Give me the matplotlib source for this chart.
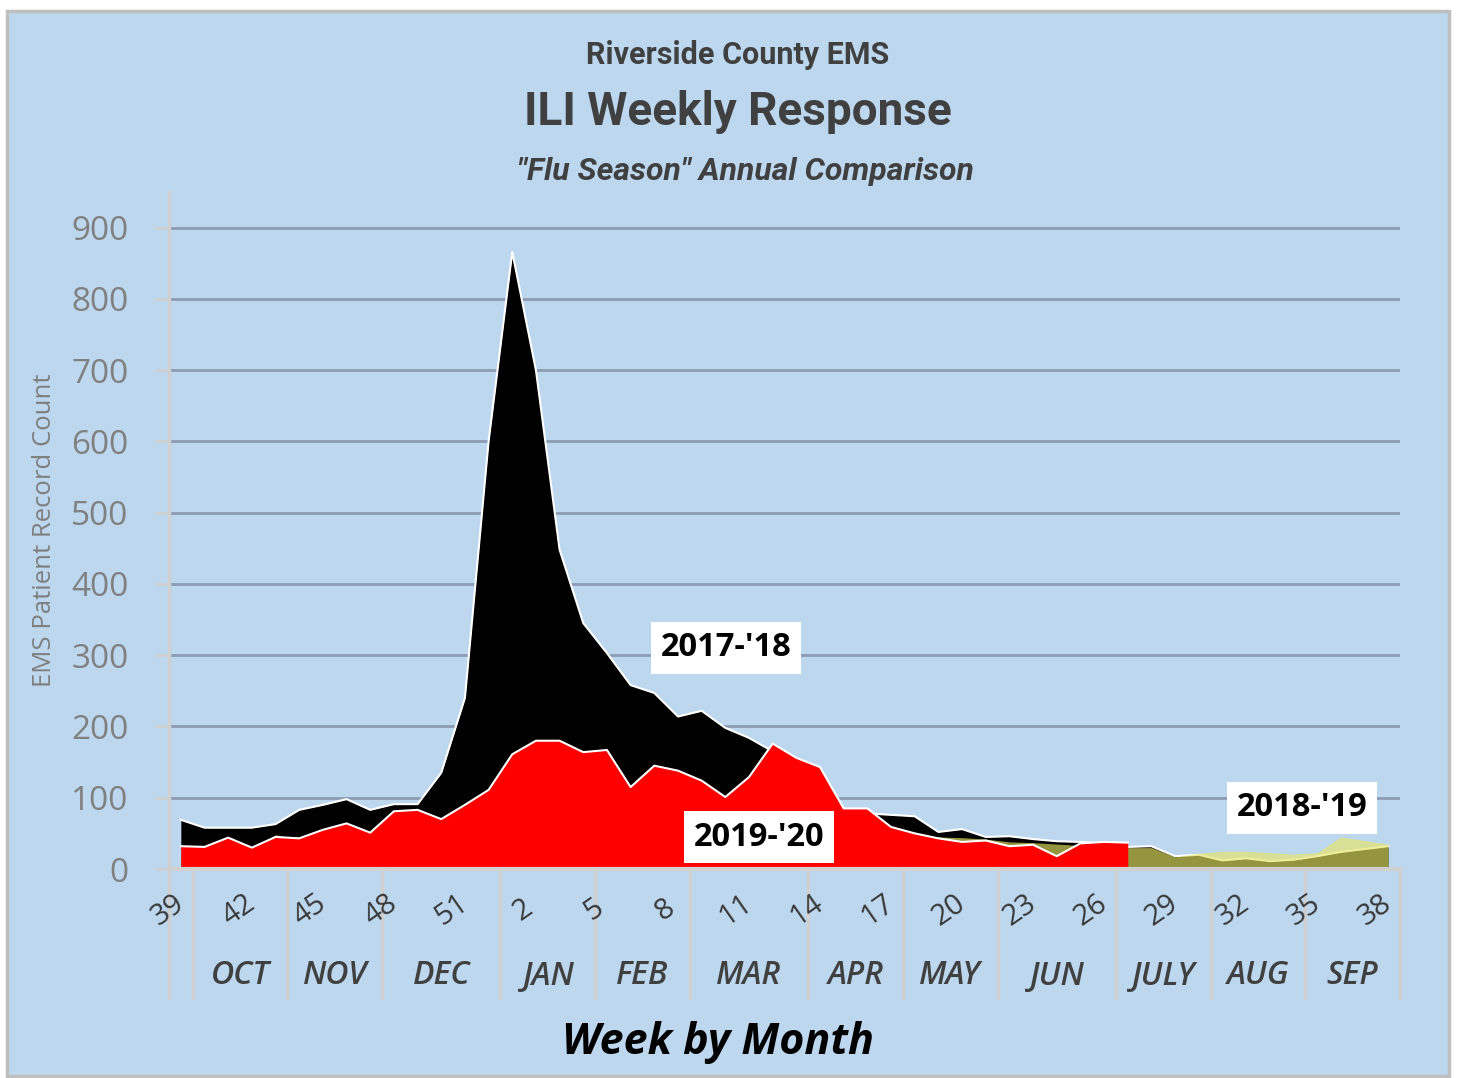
import matplotlib
matplotlib.use("Agg")
import matplotlib.pyplot as plt
import matplotlib.transforms as mtransforms
from matplotlib.lines import Line2D
from matplotlib.patches import Rectangle
import numpy as np

W, H = 1457, 1078

# week number of each category (flu season runs week 39 -> week 38)
weeks = list(range(39, 53)) + list(range(1, 39))

# month groups under the axis and how many weeks each one spans
months = ["", "OCT", "NOV", "DEC", "JAN", "FEB", "MAR", "APR", "MAY",
          "JUN", "JULY", "AUG", "SEP"]
month_weeks = [1, 4, 4, 5, 4, 4, 5, 4, 4, 5, 4, 4, 4]

season_1718 = [69, 58, 58, 58, 63, 83, 90, 98, 83, 91, 91, 135, 240, 600,
               866, 700, 448, 345, 303, 258, 247, 214, 222, 198, 184, 165,
               140, 115, 85, 78, 76, 74, 52, 56, 45, 46, 42, 39, 38, 36, 31,
               32, 18, 20, 12, 15, 11, 13, 18, 24, 28, 32]
season_1819 = [28, 30, 33, 25, 48, 40, 45, 50, 48, 55, 60, 62, 70, 75, 80,
               85, 90, 95, 100, 105, 100, 95, 90, 85, 80, 75, 70, 60, 55, 50,
               48, 46, 45, 44, 42, 38, 37, 35, 33, 32, 30, 30, 17, 22, 25, 25,
               23, 21, 23, 45, 40, 35]
season_1920 = [32, 31, 44, 30, 45, 43, 55, 64, 51, 81, 83, 70, 90, 111, 161,
               180, 180, 164, 167, 115, 145, 138, 124, 101, 129, 176, 156, 143,
               85, 85, 59, 50, 43, 38, 40, 32, 34, 18, 36, 38, 37]

BG = "#bdd7ee"
TXT = "#404040"
AXC = "#d0d0d0"

fig = plt.figure(figsize=(W / 100, H / 100), dpi=100)
fig.patch.set_facecolor("white")
fig.add_artist(Rectangle((7 / W, 1 - 1076 / H), (1449 - 7) / W, (1076 - 11) / H,
                         transform=fig.transFigure, facecolor=BG,
                         edgecolor="#bfbfbf", lw=2.5, zorder=-2))

ax = fig.add_axes([169 / W, 1 - 869 / H, (1400 - 169) / W, (869 - 192) / H])
ax.set_facecolor("none")

x = np.arange(len(weeks))
ax.fill_between(x, 0, season_1718, color="black", lw=0, zorder=2)
ax.plot(x, season_1718, color="white", lw=1.5, zorder=2.1)
ax.fill_between(x, 0, season_1819, color="#e6e664", alpha=0.65, lw=0, zorder=3)
xr = x[:len(season_1920)]
ax.fill_between(xr, 0, season_1920, color="#ff0000", lw=0, zorder=4)
ax.plot(xr, season_1920, color="white", lw=1.5, zorder=4.1)

ax.set_xlim(-0.5, len(weeks) - 0.5)
ax.set_ylim(0, 950)
ax.set_yticks(range(0, 901, 100))
ax.set_xticks([])
ax.yaxis.grid(True, color="#8c9cb2", lw=2)
ax.set_axisbelow(True)
for s in ["top", "right"]:
    ax.spines[s].set_visible(False)
ax.spines["left"].set_color(AXC)
ax.spines["left"].set_linewidth(2.5)
ax.spines["bottom"].set_color(AXC)
ax.spines["bottom"].set_linewidth(3)
ax.spines["bottom"].set_zorder(5)
ax.tick_params(axis="y", length=10, width=2, color=AXC, pad=19,
               labelsize=24, labelcolor="#808080")
for lab in ax.get_yticklabels():
    lab.set_fontfamily("Open Sans")

ax.set_ylabel("EMS Patient Record Count", fontsize=18.5, color="#7f7f7f",
              family="Open Sans", labelpad=10)

# category axis below the plot: week numbers, month groups and separators
trans = mtransforms.blended_transform_factory(ax.transData, fig.transFigure)
for i in range(0, len(weeks), 3):
    ax.text(i - 0.55, 1 - 910 / H, str(weeks[i]), transform=trans,
            rotation=35, ha="center", va="center", fontsize=21, color="#383838",
            family="Open Sans")

bounds = np.concatenate([[-0.5], np.cumsum(month_weeks) - 0.5])
for b in bounds:
    fig.add_artist(Line2D([b, b], [1 - 869 / H, 1 - 998 / H], transform=trans,
                          color=AXC, lw=2.5, zorder=-1))
for m, a, b in zip(months, bounds[:-1], bounds[1:]):
    ax.text((a + b) / 2, 1 - 976 / H, m, transform=trans, ha="center",
            va="center", fontsize=23, color=TXT, family="Open Sans",
            style="italic", weight="semibold")

fig.text(718 / W, 1 - 1042 / H, "Week by Month", ha="center", va="center",
         fontsize=31, color="black", family="Open Sans", style="italic",
         weight="bold")

# titles
tfam = ["Roboto", "DejaVu Sans"]
fig.text(738 / W, 1 - 55 / H, "Riverside County EMS", ha="center",
         va="center", fontsize=22, color=TXT, family=tfam, weight="bold")
fig.text(738 / W, 1 - 112 / H, "ILI Weekly Response", ha="center",
         va="center", fontsize=33, color=TXT, family=tfam, weight="bold")
fig.text(745 / W, 1 - 172 / H, '"Flu Season" Annual Comparison', ha="center",
         va="center", fontsize=23, color=TXT, family=tfam, weight="bold",
         style="italic")

# series labels
box = dict(boxstyle="square,pad=0.3", facecolor="white", edgecolor="none")
for txt, px, py in [("2017-'18", 726, 648), ("2019-'20", 759, 837),
                    ("2018-'19", 1302, 808)]:
    fig.text(px / W, 1 - py / H, txt, ha="center", va="center", fontsize=23.5,
             weight="bold", color="black", family="Open Sans", bbox=box,
             zorder=10)

fig.savefig("out.png", dpi=100, facecolor="white")
